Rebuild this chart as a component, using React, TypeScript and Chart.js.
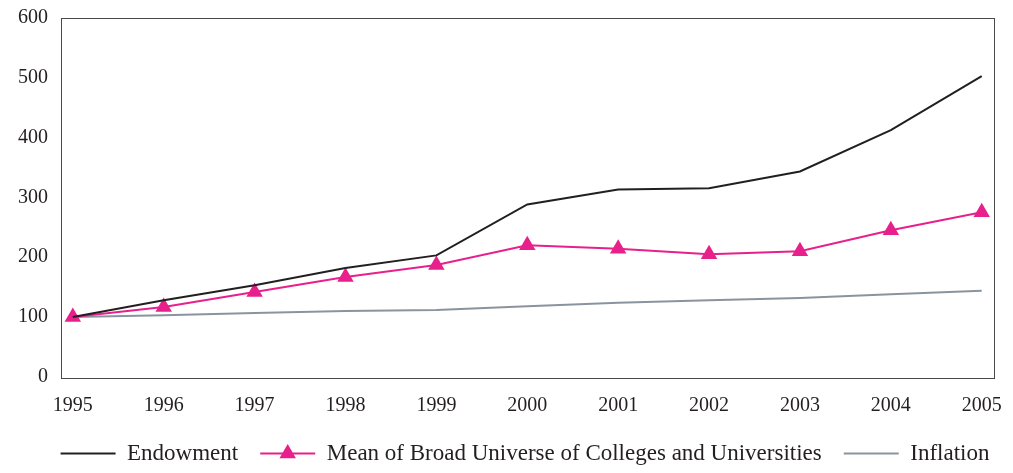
import React, { useEffect, useRef } from "react";
import { Chart, registerables } from "chart.js";

Chart.register(...registerables);

const years = [1995, 1996, 1997, 1998, 1999, 2000, 2001, 2002, 2003, 2004, 2005];
const endowment = [100, 128, 153, 182, 203, 288, 313, 315, 343, 412, 502];
const meanBroad = [100, 117, 142, 167, 187, 220, 214, 205, 210, 245, 275];
const inflation = [100, 103, 107, 110, 112, 118, 124, 128, 132, 138, 144];
const yTicks = [0, 100, 200, 300, 400, 500, 600];

const FONT = "'Liberation Serif', 'DejaVu Serif', serif";
const PINK = "#e8208c";
const BLACK = "#231f20";
const GRAY = "#8a949e";
const LEGEND_SHIFT_X = 24;
const LEGEND_SHIFT_Y = 2;

const framePlugin = {
  id: "frame",
  afterUpdate(chart: any) {
    const legend = chart.legend;
    if (!legend) return;
    legend.left += LEGEND_SHIFT_X;
    legend.right += LEGEND_SHIFT_X;
    legend.top += LEGEND_SHIFT_Y;
    legend.bottom += LEGEND_SHIFT_Y;
    (legend.legendHitBoxes || []).forEach((hb: any) => {
      hb.left += LEGEND_SHIFT_X;
      hb.top += LEGEND_SHIFT_Y;
    });
  },
  afterDraw(chart: any) {
    const { ctx, chartArea } = chart;
    ctx.save();
    ctx.strokeStyle = "#4a4a4a";
    ctx.lineWidth = 1;
    ctx.strokeRect(
      Math.round(chartArea.left) + 0.5,
      Math.round(chartArea.top) + 0.5,
      Math.round(chartArea.right - chartArea.left),
      Math.round(chartArea.bottom - chartArea.top)
    );
    const legend = chart.legend;
    if (legend && legend.legendHitBoxes && legend.legendHitBoxes[1]) {
      const hb = legend.legendHitBoxes[1];
      const bw = legend.options.labels.boxWidth;
      const cx = hb.left + bw / 2;
      const cy = hb.top + hb.height / 2;
      const r = 9.5;
      ctx.fillStyle = PINK;
      ctx.beginPath();
      ctx.moveTo(cx, cy - r);
      ctx.lineTo(cx + r * 0.866, cy + r / 2);
      ctx.lineTo(cx - r * 0.866, cy + r / 2);
      ctx.closePath();
      ctx.fill();
    }
    ctx.restore();
  },
};

export default function App() {
  const ref = useRef<HTMLCanvasElement | null>(null);

  useEffect(() => {
    if (!ref.current) return;
    const chart = new Chart(ref.current, {
      type: "line",
      data: {
        datasets: [
          {
            label: "Endowment",
            data: years.map((y, i) => ({ x: y, y: endowment[i] })),
            borderColor: BLACK,
            backgroundColor: BLACK,
            borderWidth: 2,
            pointRadius: 0,
            tension: 0,
          },
          {
            label: "Mean of Broad Universe of Colleges and Universities",
            data: years.map((y, i) => ({ x: y, y: meanBroad[i] })),
            borderColor: PINK,
            backgroundColor: PINK,
            borderWidth: 2,
            pointStyle: "triangle",
            pointRadius: 9.5,
            pointBorderWidth: 0,
            pointBackgroundColor: PINK,
            tension: 0,
          },
          {
            label: "Inflation",
            data: years.map((y, i) => ({ x: y, y: inflation[i] })),
            borderColor: GRAY,
            backgroundColor: GRAY,
            borderWidth: 2,
            pointRadius: 0,
            tension: 0,
          },
        ],
      },
      options: {
        animation: false,
        events: [],
        responsive: true,
        maintainAspectRatio: false,
        layout: { padding: { left: 0, right: 11, top: 8, bottom: 0 } },
        plugins: {
          tooltip: { enabled: false },
          legend: {
            position: "bottom",
            labels: {
              boxWidth: 55,
              boxHeight: 2,
              padding: 22,
              color: "#231f20",
              font: { family: FONT, size: 23 },
              generateLabels: (chart: any) =>
                chart.data.datasets.map((ds: any, i: number) => ({
                  text: ds.label,
                  fillStyle: ds.borderColor,
                  strokeStyle: ds.borderColor,
                  lineWidth: 0,
                  fontColor: "#231f20",
                  datasetIndex: i,
                  hidden: false,
                })),
            },
          },
        },
        scales: {
          x: {
            type: "linear",
            min: 1994.87,
            max: 2005.135,
            grid: { display: false, drawTicks: false },
            border: { display: false },
            afterBuildTicks: (axis: any) => {
              axis.ticks = years.map((v) => ({ value: v }));
            },
            afterFit: (axis: any) => {
              axis.height = 41;
              axis.paddingLeft = 0;
              axis.paddingRight = 0;
            },
            ticks: {
              padding: 17,
              color: "#231f20",
              font: { family: FONT, size: 20 },
              maxRotation: 0,
              autoSkip: false,
              callback: (v: any) => String(v),
            },
          },
          y: {
            min: 0,
            max: 600,
            grid: { display: false, drawTicks: false },
            border: { display: false },
            afterBuildTicks: (axis: any) => {
              axis.ticks = yTicks.map((v) => ({ value: v }));
            },
            afterFit: (axis: any) => {
              axis.width = 53;
              axis.paddingTop = 0;
              axis.paddingBottom = 0;
            },
            ticks: {
              padding: 13,
              color: "#231f20",
              font: { family: FONT, size: 20 },
              callback: (v: any) => String(v),
            },
          },
        },
      },
      plugins: [framePlugin],
    } as any);
    return () => chart.destroy();
  }, []);

  return (
    <div style={{ width: "100%", height: 465, marginBottom: -8, position: "relative" }}>
      <canvas ref={ref} />
    </div>
  );
}
